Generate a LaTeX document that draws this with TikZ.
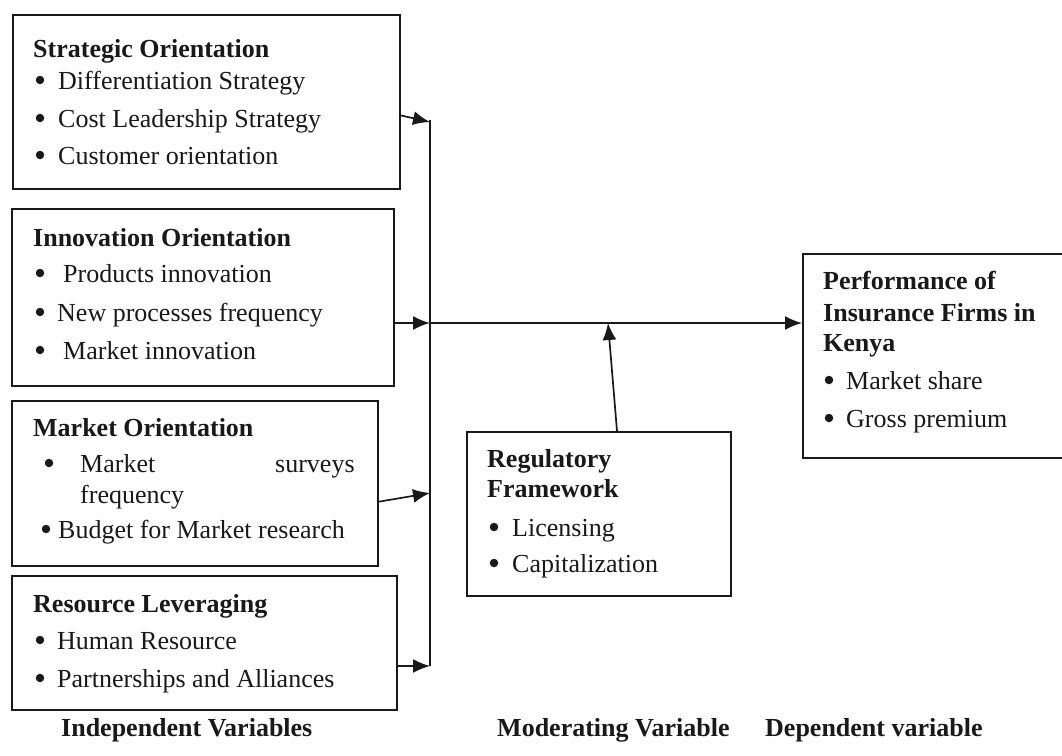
\documentclass[tikz,border=0pt]{standalone}
\usepackage{fontspec}
\setmainfont{Liberation Serif}
\usetikzlibrary{arrows.meta}
\begin{document}
\begin{tikzpicture}[x=1pt,y=-1pt,
  box/.style={draw=black!90, line width=1.8pt, inner sep=0pt, anchor=north west},
  txt/.style={anchor=base west, inner sep=0pt, font=\fontsize{26}{30}\selectfont, text=black!90},
  ttl/.style={txt, font=\fontsize{26}{30}\selectfont\bfseries},
  bul/.style={circle, fill=black!90, inner sep=0pt, minimum size=8.5pt},
  conn/.style={line width=1.7pt, draw=black!90},
  arr/.style={conn, -{Latex[length=17pt,width=14pt]}}]
\useasboundingbox (0,0) rectangle (1062,755);
\fill[white] (0,0) rectangle (1062,755);

% boxes
\node[box, minimum width=387pt, minimum height=174pt] (so) at (12,14) {};
\node[box, minimum width=382pt, minimum height=177pt] (io) at (11,208) {};
\node[box, minimum width=366pt, minimum height=165pt] (mo) at (11,400) {};
\node[box, minimum width=385pt, minimum height=134pt] (rl) at (11,575) {};
\node[box, minimum width=264pt, minimum height=164pt] (rf) at (466,431) {};
\node[box, minimum width=268pt, minimum height=204pt] (pf) at (802,253) {};

% Strategic Orientation
\node[ttl] (so0) at (33,57) {Strategic Orientation};
\node[bul] (so1b) at (40,80) {};  \node[txt] (so1) at (58,89) {Differentiation Strategy};
\node[bul] (so2b) at (40,118) {}; \node[txt] (so2) at (58,127) {Cost Leadership Strategy};
\node[bul] (so3b) at (40,155) {}; \node[txt] (so3) at (58,164) {Customer orientation};

% Innovation Orientation
\node[ttl] (io0) at (33,246) {Innovation Orientation};
\node[bul] (io1b) at (40,273) {}; \node[txt] (io1) at (63,282) {Products innovation};
\node[bul] (io2b) at (40,312) {}; \node[txt] (io2) at (57,321) {New processes frequency};
\node[bul] (io3b) at (40,350) {}; \node[txt] (io3) at (63,359) {Market innovation};

% Market Orientation
\node[ttl] (mo0) at (33,436) {Market Orientation};
\node[bul] (mo1b) at (49,463) {}; \node[txt] (mo1) at (80,472) {Market};
\node[txt] (mo1s) at (275,472) {surveys};
\node[txt] (mo1c) at (80,503) {frequency};
\node[bul] (mo2b) at (46,529) {}; \node[txt] (mo2) at (58,538) {Budget for Market research};

% Resource Leveraging
\node[ttl] (rl0) at (33,612) {Resource Leveraging};
\node[bul] (rl1b) at (40,640) {}; \node[txt] (rl1) at (57,649) {Human Resource};
\node[bul] (rl2b) at (40,678) {}; \node[txt] (rl2) at (57,687) {Partnerships and Alliances};

% Regulatory Framework
\node[ttl] (rf0) at (487,467) {Regulatory};
\node[ttl] (rf0b) at (487,497) {Framework};
\node[bul] (rf1b) at (494,527) {}; \node[txt] (rf1) at (512,536) {Licensing};
\node[bul] (rf2b) at (494,563) {}; \node[txt] (rf2) at (512,572) {Capitalization};

% Performance
\node[ttl] (pf0) at (823,289) {Performance of};
\node[ttl] (pf0b) at (823,321) {Insurance Firms in};
\node[ttl] (pf0c) at (823,351) {Kenya};
\node[bul] (pf1b) at (829,380) {}; \node[txt] (pf1) at (846,389) {Market share};
\node[bul] (pf2b) at (829,418) {}; \node[txt] (pf2) at (846,427) {Gross premium};

% bottom labels
\node[ttl] (lab1) at (61,736) {Independent Variables};
\node[ttl] (lab2) at (497,736) {Moderating Variable};
\node[ttl] (lab3) at (765,736) {Dependent variable};

% connectors
\coordinate (vt) at (430,120);
\coordinate (vb) at (430,666);
\coordinate (j) at (430,323);
\coordinate (b1) at (430,122);
\coordinate (b3) at (430,493);
\coordinate (s1) at (399,115);
\coordinate (s3) at (377,502);
\coordinate (r0) at (617,431);
\coordinate (m) at (608,323);

\draw[conn] (vt) -- (vb);
\draw[arr] (s1) -- (b1);
\draw[arr] (io.east |- j) -- (j);
\draw[arr] (s3) -- (b3);
\draw[arr] (rl.east |- vb) -- (vb);
\draw[arr] (j) -- (pf.west |- j);
\draw[arr] (r0) -- (m);
\end{tikzpicture}
\end{document}
